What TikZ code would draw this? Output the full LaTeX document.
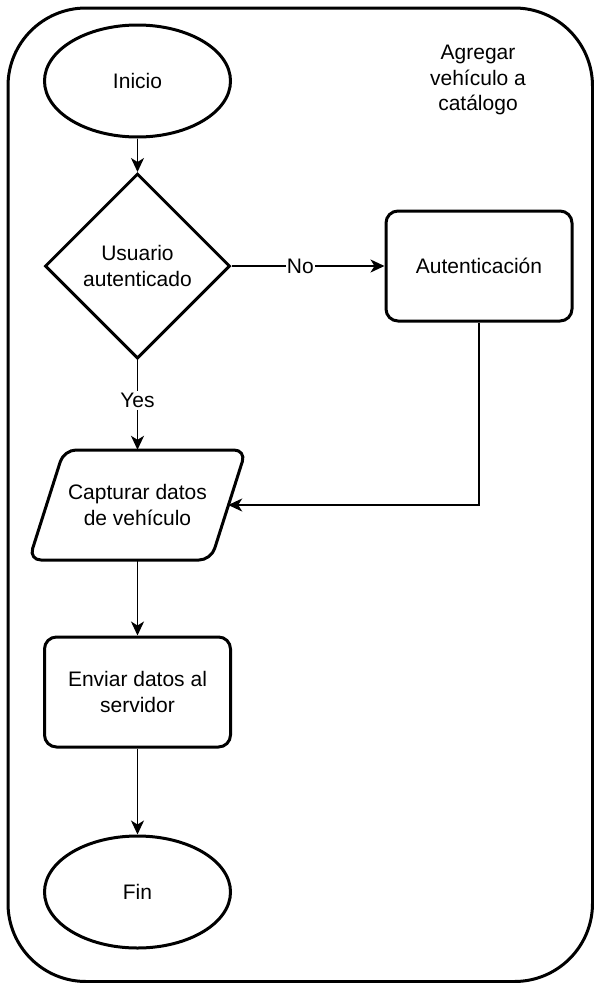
\documentclass[tikz,border=0pt]{standalone}
\usepackage{fontspec}
\setmainfont{Liberation Sans}
\usetikzlibrary{shapes.geometric,arrows.meta}

\begin{document}
\begin{tikzpicture}[x=1pt,y=-1pt,
  font=\fontsize{21}{25.5}\selectfont,
  every node/.style={align=center},
  terminal/.style={draw,ellipse,line width=3pt,minimum width=186pt,minimum height=112pt},
  decision/.style={draw,diamond,line width=3pt,minimum width=185pt,minimum height=185pt,inner sep=0pt},
  process/.style={draw,rectangle,rounded corners=12pt,line width=3pt,minimum width=186pt,minimum height=110pt},
  datos/.style={rectangle,minimum width=181pt,minimum height=110pt,inner sep=0pt},
  flecha/.style={line width=1.7pt,-{Stealth[length=14pt,width=13pt,inset=4pt]}}]
\useasboundingbox (0,0) rectangle (594,983);
\draw[line width=3pt,rounded corners=78pt] (8,8) rectangle (592.5,981.5);
\node (titulo) at (478,80) {Agregar\\vehículo a\\catálogo};
\node[terminal] (inicio) at (137.5,81) {Inicio};
\node[decision] (usuario) at (137.5,266) {Usuario\\autenticado};
\node[process] (auth) at (479,266) {Autenticación};
\node[datos] (captura) at (137.5,505) {Capturar datos\\de vehículo};
\draw[line width=3pt,rounded corners=12pt] (29,560) -- (64,450) -- (246,450) -- (211,560) -- cycle;
\node[process] (enviar) at (137.5,692) {Enviar datos al\\servidor};
\node[terminal] (fin) at (137.5,892) {Fin};
\path[draw,flecha] (inicio) -- (usuario);
\path[draw,flecha] (usuario) -- node[pos=0.45,fill=white,inner sep=1pt] {No} (auth);
\path[draw,flecha] (usuario) -- node[pos=0.45,fill=white,inner sep=2pt] {Yes} (captura);
\path[draw,flecha] (auth.south) |- (captura.east);
\path[draw,flecha] (captura) -- (enviar);
\path[draw,flecha] (enviar) -- (fin);
\end{tikzpicture}
\end{document}
